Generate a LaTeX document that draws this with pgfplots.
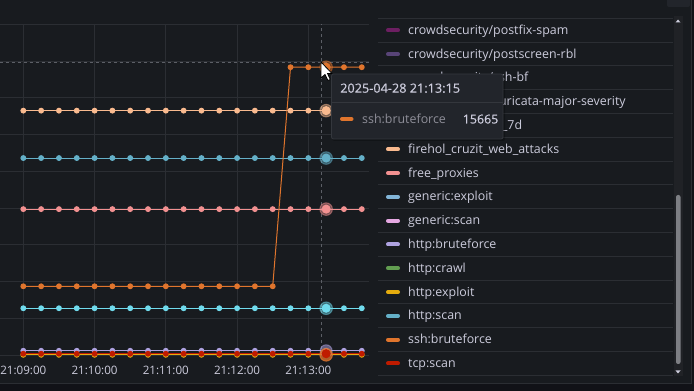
\documentclass[border=0pt]{standalone}
\usepackage{fontspec}
\setmainfont{Open Sans}
\newfontfamily\medfont{Open Sans}[FakeBold=0.5]
\usepackage{pgfplots}
\pgfplotsset{compat=1.18}
\definecolor{pagebg}{HTML}{111217}
\definecolor{panelbg}{HTML}{181B1F}
\definecolor{gridc}{HTML}{2B2E33}
\definecolor{txt}{HTML}{CCCCDC}
\definecolor{txtdim}{HTML}{8E8E98}
\definecolor{ttbg}{HTML}{22252B}
\definecolor{ttborder}{HTML}{34373D}
\definecolor{crossc}{HTML}{5C5F66}
\definecolor{trackc}{HTML}{202226}
\definecolor{thumbc}{HTML}{7D7F84}
\definecolor{cA}{HTML}{6D1F62}
\definecolor{cB}{HTML}{584477}
\definecolor{cC}{HTML}{B7DBAB}
\definecolor{cD}{HTML}{F4D598}
\definecolor{cE}{HTML}{70DBED}
\definecolor{cF}{HTML}{F9BA8F}
\definecolor{cG}{HTML}{F29191}
\definecolor{cH}{HTML}{82B5D8}
\definecolor{cI}{HTML}{E5A8E2}
\definecolor{cJ}{HTML}{AEA2E0}
\definecolor{cK}{HTML}{629E51}
\definecolor{cL}{HTML}{E5AC0E}
\definecolor{cM}{HTML}{64B0C8}
\definecolor{cN}{HTML}{E0752D}
\definecolor{cO}{HTML}{BF1B00}
\begin{document}
\begin{tikzpicture}[x=1pt,y=1pt]
\useasboundingbox (0,0) rectangle (694,391);
\clip (0,0) rectangle (694,391);
\fill[pagebg] (0,0) rectangle (694,391);
\fill[panelbg] (-5,7) rectangle (691,400);
\draw[gridc, line width=1pt] (-5,7) -- (691,7) -- (691,400);
\fill[ttbg, rounded corners=2pt] (667,384) rectangle (690,395);

\begin{axis}[
  at={(-12.3pt,36pt)}, anchor=south west, scale only axis,
  width=381.2pt, height=330.7pt,
  xmin=-30, xmax=291, ymin=0, ymax=18000,
  axis line style={draw=none}, tick style={draw=none},
  xtick={0,60,120,180,240},
  xticklabels={21:09:00,21:10:00,21:11:00,21:12:00,21:13:00},
  ytick={0,2000,4000,6000,8000,10000,12000,14000,16000,18000},
  yticklabels={}, scaled y ticks=false, scaled x ticks=false,
  grid=major, major grid style={gridc, line width=0.9pt},
  xticklabel style={font=\fontsize{11.6}{12}\selectfont, text=txt, anchor=base, yshift=-19.3pt},
  clip=false,
  every axis plot/.append style={line width=1pt, mark=*, mark size=2.4pt, mark options={solid}},
]
% crosshair
\addplot[crossc, dashed, line width=0.8pt, mark=none] coordinates {(250.7,0) (250.7,18000)};
\addplot[crossc, dashed, line width=0.8pt, mark=none] coordinates {(-30,15900) (291,15900)};
% firehol_botscout_7d
\addplot[cE] coordinates {(0,2545)(15,2545)(30,2545)(45,2545)(60,2545)(75,2545)(90,2545)(105,2545)(120,2545)(135,2545)(150,2545)(165,2545)(180,2545)(195,2545)(210,2545)(225,2545)(240,2545)(255,2545)(270,2545)(285,2545)};
% firehol_cruzit_web_attacks
\addplot[cF] coordinates {(0,13300)(15,13300)(30,13300)(45,13300)(60,13300)(75,13300)(90,13300)(105,13300)(120,13300)(135,13300)(150,13300)(165,13300)(180,13300)(195,13300)(210,13300)(225,13300)(240,13300)(255,13300)};
% free_proxies
\addplot[cG] coordinates {(0,7940)(15,7940)(30,7940)(45,7940)(60,7940)(75,7940)(90,7940)(105,7940)(120,7940)(135,7940)(150,7940)(165,7940)(180,7940)(195,7940)(210,7940)(225,7940)(240,7940)(255,7940)(270,7940)(285,7940)};
% http:bruteforce
\addplot[cJ] coordinates {(0,230)(15,230)(30,230)(45,230)(60,230)(75,230)(90,230)(105,230)(120,230)(135,230)(150,230)(165,230)(180,230)(195,230)(210,230)(225,230)(240,230)(255,230)(270,230)(285,230)};
% http:exploit
\addplot[cL] coordinates {(0,10)(15,10)(30,10)(45,10)(60,10)(75,10)(90,10)(105,10)(120,10)(135,10)(150,10)(165,10)(180,10)(195,10)(210,10)(225,10)(240,10)(255,10)(270,10)(285,10)};
% http:scan
\addplot[cM] coordinates {(0,10720)(15,10720)(30,10720)(45,10720)(60,10720)(75,10720)(90,10720)(105,10720)(120,10720)(135,10720)(150,10720)(165,10720)(180,10720)(195,10720)(210,10720)(225,10720)(240,10720)(255,10720)(270,10720)(285,10720)};
% ssh:bruteforce
\addplot[cN] coordinates {(0,3740)(15,3740)(30,3740)(45,3740)(60,3740)(75,3740)(90,3740)(105,3740)(120,3740)(135,3740)(150,3740)(165,3740)(180,3740)(195,3740)(210,3740)(225,15665)(240,15665)(255,15665)(270,15665)(285,15665)};
% tcp:scan
\addplot[cO] coordinates {(0,70)(15,70)(30,70)(45,70)(60,70)(75,70)(90,70)(105,70)(120,70)(135,70)(150,70)(165,70)(180,70)(195,70)(210,70)(225,70)(240,70)(255,70)(270,70)(285,70)};
% hover highlights
\addplot[only marks, mark=*, mark size=6.3pt, cE, opacity=0.45] coordinates {(255,2545)};
\addplot[only marks, mark=*, mark size=4pt, cE] coordinates {(255,2545)};
\addplot[only marks, mark=*, mark size=6.3pt, cG, opacity=0.45] coordinates {(255,7940)};
\addplot[only marks, mark=*, mark size=4pt, cG] coordinates {(255,7940)};
\addplot[only marks, mark=*, mark size=6.3pt, cM, opacity=0.45] coordinates {(255,10720)};
\addplot[only marks, mark=*, mark size=4pt, cM] coordinates {(255,10720)};
\addplot[only marks, mark=*, mark size=6.3pt, cF, opacity=0.45] coordinates {(255,13300)};
\addplot[only marks, mark=*, mark size=4pt, cF] coordinates {(255,13300)};
\addplot[only marks, mark=*, mark size=6.3pt, cN, opacity=0.45] coordinates {(255,15665)};
\addplot[only marks, mark=*, mark size=4pt, cN] coordinates {(255,15665)};
\addplot[only marks, mark=*, mark size=6pt, cJ, opacity=0.5] coordinates {(255,230)};
\addplot[only marks, mark=*, mark size=6.3pt, cN, opacity=0.75] coordinates {(255,10)};
\addplot[only marks, mark=*, mark size=4pt, cO] coordinates {(255,70)};
\end{axis}

% legend panel
\foreach \k in {0,...,15} {
  \draw[gridc, line width=0.9pt] (378,{391-18.3-23.8*\k}) -- (673,{391-18.3-23.8*\k});
}
\foreach \k/\c/\t in {0/cA/crowdsecurity\slash postfix-spam,1/cB/crowdsecurity\slash postscreen-rbl,2/cC/crowdsecurity\slash ssh-bf,3/cD/crowdsecurity\slash suricata-major-severity,4/cE/firehol\_botscout\_7d,5/cF/firehol\_cruzit\_web\_attacks,6/cG/free\_proxies,7/cH/generic:exploit,8/cI/generic:scan,9/cJ/http:bruteforce,10/cK/http:crawl,11/cL/http:exploit,12/cM/http:scan,13/cN/ssh:bruteforce,14/cO/tcp:scan} {
  \draw[\c, line width=4pt, line cap=round] (388,{391-30.3-23.8*\k}) -- (398,{391-30.3-23.8*\k});
  \node[anchor=base west, inner sep=0, text=txt, font=\fontsize{12.4}{13}\selectfont] at (408,{391-34.4-23.8*\k}) {\t};
}
% scrollbar
\fill[trackc] (673.5,15) rectangle (682.5,375);
\fill[thumbc, rounded corners=2pt] (676,27) rectangle (680.5,196);
\fill[txt] (675.5,368.5) -- (680.5,368.5) -- (678,371.5) -- cycle;
\fill[txt] (675.5,20.5) -- (680.5,20.5) -- (678,17.5) -- cycle;

% tooltip
\fill[black, opacity=0.25, rounded corners=2pt] (332.5,250) rectangle (505,316);
\filldraw[fill=ttbg, draw=ttborder, line width=0.8pt, rounded corners=2pt] (331.5,252) rectangle (503,317);
\draw[ttborder, line width=0.8pt] (331.5,289) -- (503,289);
\node[anchor=base west, inner sep=0, text=txt, font=\medfont\fontsize{12.7}{13}\selectfont] at (340,298.3) {2025-04-28 21:13:15};
\draw[cN, line width=4pt, line cap=round] (342,272) -- (351.5,272);
\node[anchor=base west, inner sep=0, text=txtdim, font=\fontsize{12.4}{13}\selectfont] at (362,267.5) {ssh:bruteforce};
\node[anchor=base east, inner sep=0, text=txt, font=\medfont\fontsize{12.4}{13}\selectfont] at (498.5,267.5) {15665};

% mouse pointer
\filldraw[fill=white, draw=black, line width=0.8pt, line join=round]
  (321,329) -- (321,313) -- (325,316.5) -- (328,310.5) -- (330.3,311.5) -- (327.5,317.5) -- (332,317.5) -- cycle;
\end{tikzpicture}
\end{document}
